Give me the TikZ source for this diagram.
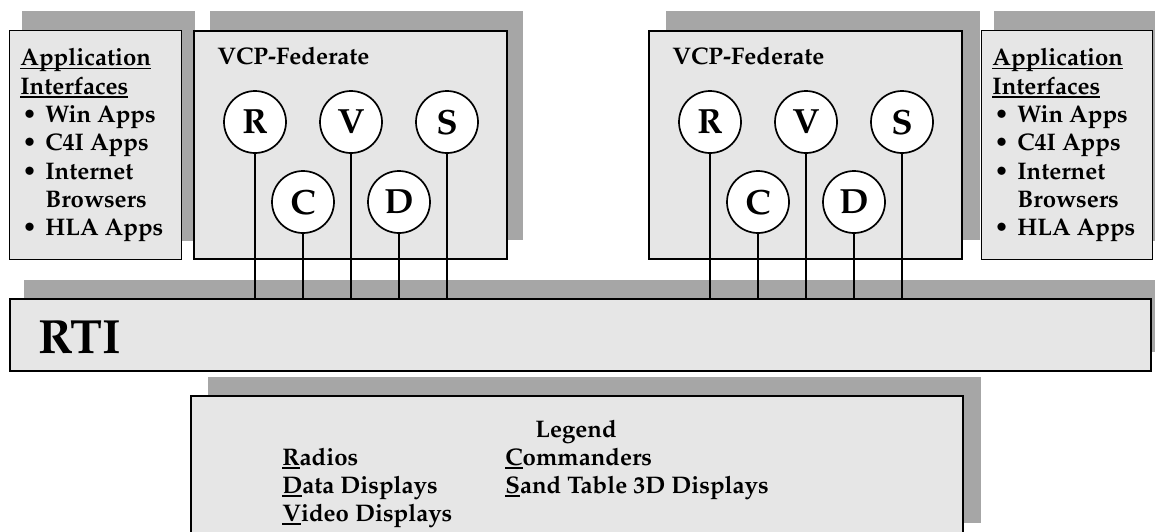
\documentclass[tikz,border=0pt]{standalone}
\usepackage[T1]{fontenc}
\usepackage{mathpazo}
\definecolor{shadowgray}{HTML}{A6A6A6}
\definecolor{boxgray}{HTML}{E6E6E6}
\newcommand\ulx[1]{\setbox0\hbox{#1}\rlap{\rule[-1.8pt]{\wd0}{0.6pt}}\box0}
\newcommand\bul{\makebox[12.5pt][l]{\hspace{1pt}\textbullet}}
\tikzset{
  shadowfill/.style={fill=shadowgray, draw=none},
  panel/.style={fill=boxgray, draw=black, anchor=north west, inner sep=0pt},
  circ/.style={circle, draw=black, fill=white, line width=0.85pt, minimum size=31pt, inner sep=0pt, font=\fontsize{17.5}{17.5}\selectfont\bfseries},
  conn/.style={line width=0.75pt},
  txt/.style={anchor=base west, inner sep=0pt, font=\fontsize{12}{14}\selectfont\bfseries},
  legtxt/.style={anchor=base west, inner sep=0pt, font=\fontsize{12}{14}\selectfont\bfseries},
}
\begin{document}
\begin{tikzpicture}[x=0.5pt,y=-0.5pt]
\useasboundingbox (0,0) rectangle (1155,531);
\clip (0,0) rectangle (1155,531);
\fill[white] (0,0) rectangle (1155,531);
% shadows
\fill[shadowfill] (22,11) rectangle (195,241);
\fill[shadowfill] (210,11) rectangle (523,240);
\fill[shadowfill] (666,11) rectangle (980,240);
\fill[shadowfill] (994,11) rectangle (1165,241);
\fill[shadowfill] (24,280) rectangle (1165,352);
\fill[shadowfill] (208,377) rectangle (981,523);
% panels
\node[panel, line width=0.6pt, minimum width=86pt, minimum height=114.5pt] (lapp) at (9,30) {};
\node[panel, line width=0.85pt, minimum width=156.5pt, minimum height=114pt] (lvcp) at (193,30) {};
\node[panel, line width=0.85pt, minimum width=156.5pt, minimum height=114pt] (rvcp) at (648,30) {};
\node[panel, line width=0.6pt, minimum width=85.5pt, minimum height=114.5pt] (rapp) at (981,30) {};
\node[panel, line width=1.2pt, minimum width=570.5pt, minimum height=36pt] (rti) at (9,298) {};
\node[panel, line width=1pt, minimum width=386pt, minimum height=73pt] (leg) at (190,395) {};
% circles (left)
\node[circ] (lR) at (255,122) {R};
\node[circ] (lV) at (351,122) {V};
\node[circ] (lS) at (447,122) {S};
\node[circ] (lC) at (303,202) {C};
\node[circ] (lD) at (399,202) {D};
% circles (right)
\node[circ] (rR) at (710,122) {R};
\node[circ] (rV) at (806,122) {V};
\node[circ] (rS) at (902,122) {S};
\node[circ] (rC) at (758,202) {C};
\node[circ] (rD) at (854,202) {D};
% connectors
\foreach \n in {lR,lV,lS,lC,lD,rR,rV,rS,rC,rD}{
  \draw[conn] (\n.south) -- (\n.south |- rti.north);
}
% left application interfaces
\node[txt] (la1) at (20,65.7) {\ulx{Application}};
\node[txt] (la2) at (20,94) {\ulx{Interfaces}};
\node[txt] (la3) at (20,122.3) {\bul Win Apps};
\node[txt] (la4) at (20,150.6) {\bul C4I Apps};
\node[txt] (la5) at (20,179) {\bul Internet};
\node[txt] (la6) at (20,207.3) {\hspace{12.5pt}Browsers};
\node[txt] (la7) at (20,235.6) {\bul HLA Apps};
% right application interfaces
\node[txt] (ra1) at (992,65.7) {\ulx{Application}};
\node[txt] (ra2) at (992,94) {\ulx{Interfaces}};
\node[txt] (ra3) at (992,122.3) {\bul Win Apps};
\node[txt] (ra4) at (992,150.6) {\bul C4I Apps};
\node[txt] (ra5) at (992,179) {\bul Internet};
\node[txt] (ra6) at (992,207.3) {\hspace{12.5pt}Browsers};
\node[txt] (ra7) at (992,235.6) {\bul HLA Apps};
% federate titles
\node[txt] (lvt) at (217,64) {VCP-Federate};
\node[txt] (rvt) at (672,64) {VCP-Federate};
% RTI
\node[anchor=base west, inner sep=0pt, font=\fontsize{24}{24}\selectfont\bfseries] (rtit) at (38,353) {RTI};
% legend
\node[anchor=base, inner sep=0pt, font=\fontsize{12}{14}\selectfont\bfseries] (legt) at (576,437) {Legend};
\node[legtxt] (l1) at (282,465) {\ulx{R}adios};
\node[legtxt] (l2) at (282,493) {\ulx{D}ata Displays};
\node[legtxt] (l3) at (282,521) {\ulx{V}ideo Displays};
\node[legtxt] (l4) at (505,465) {\ulx{C}ommanders};
\node[legtxt] (l5) at (505,493) {\ulx{S}and Table 3D Displays};
\end{tikzpicture}
\end{document}
